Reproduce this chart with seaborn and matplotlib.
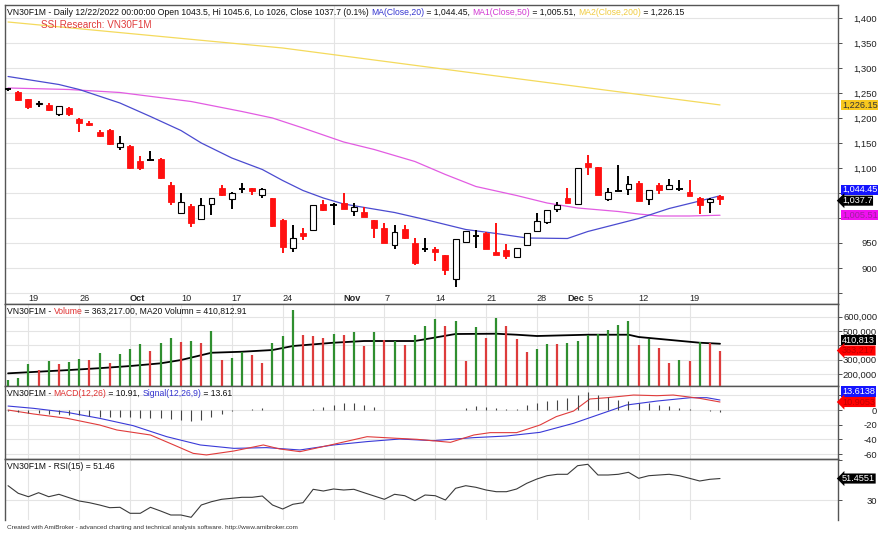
import numpy as np
import pandas as pd
import matplotlib
matplotlib.use('Agg')
import matplotlib.pyplot as plt
import seaborn as sns

sns.set_style('white')
plt.rcParams['font.family'] = ['Liberation Sans', 'DejaVu Sans']

# trading days 15/09/2022 - 22/12/2022
dates = pd.bdate_range('2022-09-15', '2022-12-22')

# OHLC doc tu hinh
open_ = [1259, 1253, 1238, 1228, 1227, 1208, 1221, 1198, 1191, 1173, 1177, 1143, 1145, 1115, 1116, 1119, 1067, 1010,
         1025, 998, 1028, 1061, 1038, 1058, 1060, 1047, 1040, 997, 940, 971, 977, 1029, 1026, 1031, 1015, 1013, 997,
         981, 947, 978, 951, 938, 938, 927, 878, 953, 964, 971, 933, 937, 922, 947, 975, 992, 1018, 1041, 1028, 1111,
         1103, 1039, 1054, 1058, 1071, 1039, 1067, 1059, 1059, 1053, 1041, 1033, 1043.5]
high = [1260, 1254, 1239, 1235, 1230, 1225, 1223, 1200, 1195, 1177, 1178, 1165, 1147, 1125, 1135, 1120, 1072, 1050,
        1028, 1040, 1041, 1067, 1053, 1070, 1061, 1060, 1041, 998, 987, 980, 1026, 1037, 1030, 1050, 1031, 1023, 997,
        991, 987, 987, 960, 960, 943, 927, 958, 975, 977, 973, 991, 948, 941, 970, 1010, 1016, 1033, 1060, 1101, 1127,
        1103, 1061, 1106, 1084, 1074, 1057, 1071, 1078, 1076, 1076, 1043, 1041, 1045.6]
low = [1255, 1235, 1218, 1223, 1214, 1205, 1205, 1173, 1185, 1163, 1146, 1137, 1098, 1097, 1115, 1078, 1027, 1008,
       982, 998, 1007, 1045, 1018, 1051, 1047, 1041, 983, 931, 933, 956, 977, 1015, 986, 1018, 1004, 1003, 960, 950,
       938, 958, 907, 933, 915, 887, 863, 951, 940, 938, 927, 918, 920, 946, 975, 988, 1012, 1030, 1028, 1087, 1046,
       1034, 1054, 1047, 1035, 1026, 1049, 1059, 1054, 1045, 1008, 1011, 1026]
close = [1259, 1237, 1222, 1231, 1217, 1225, 1208, 1191, 1186, 1165, 1149, 1151, 1100, 1101, 1116, 1080, 1033, 1033,
         990, 1027, 1040, 1047, 1050, 1058, 1055, 1059, 985, 943, 961, 964, 1026, 1017, 1026, 1018, 1022, 1003, 981,
         950, 973, 960, 910, 938, 933, 897, 958, 975, 964, 938, 927, 925, 941, 970, 995, 1016, 1027, 1030, 1101, 1103,
         1046, 1053, 1054, 1069, 1035, 1057, 1056, 1066, 1059, 1045, 1026, 1039, 1037.7]

# duong MA (diem doc tren hinh)
ma20_x = [0, 5, 7, 11, 14, 17, 19, 22, 25, 27, 29, 31, 33, 38, 41, 45, 48, 51, 55, 57, 62, 65, 68, 70]
ma20_y = [1283, 1267, 1257, 1230, 1203, 1175, 1150, 1120, 1097, 1075, 1055, 1040, 1028, 1011, 997, 977, 969, 960,
          959, 973, 999, 1019, 1034, 1044.45]
ma50_x = [0, 6, 11, 18, 23, 26, 29, 33, 36, 40, 43, 46, 50, 53, 56, 60, 62, 64, 67, 70]
ma50_y = [1260, 1257, 1251, 1233, 1213, 1200, 1180, 1152, 1137, 1113, 1087, 1063, 1045, 1030, 1020, 1013, 1008, 1004,
          1004, 1005.51]
ma200_x = [0, 27, 45, 70]
ma200_y = [1392, 1340, 1292, 1226.15]

# volume
volume = [160000, 173000, 267000, 227000, 292000, 267000, 285000, 304000, 297000, 348000, 274000, 341000, 372000,
          407000, 360000, 414000, 449000, 425000, 432000, 418000, 502000, 297000, 309000, 351000, 332000, 278000,
          418000, 465000, 647000, 472000, 465000, 449000, 479000, 472000, 491000, 395000, 495000, 437000, 432000,
          402000, 472000, 535000, 584000, 537000, 570000, 292000, 528000, 449000, 593000, 537000, 442000, 355000,
          374000, 407000, 407000, 414000, 432000, 472000, 476000, 507000, 542000, 570000, 402000, 442000, 383000,
          274000, 297000, 292000, 425000, 418000, 363217]
vol_dir = list('gggrgrggrgrgggrggrgrgrggrrgggrrrgrgrgrgrgggrgrgrgrrrggrgggggggrgrrgrgrr')
vma_x = [0, 6, 9, 12, 15, 17, 20, 23, 26, 28, 32, 35, 40, 44, 48, 50, 52, 57, 61, 62, 68, 70]
vma_y = [204000, 227000, 240000, 255000, 274000, 297000, 348000, 355000, 367000, 395000, 418000, 430000, 430000,
         479000, 481000, 474000, 465000, 474000, 474000, 458000, 418000, 410813]

# MACD
macd_x = [0, 2.5, 5.8, 9, 10.7, 14, 16.3, 18.2, 19.5, 22.2, 25.1, 26.7, 28.7, 32, 35.3, 38.2, 40.2, 43.5, 45.8,
          47.4, 50, 52.3, 53.9, 55.6, 57.2, 58.9, 61.5, 63.8, 65.4, 68, 70]
macd_y = [0, -5.4, -11.3, -20.4, -27.2, -34, -47.6, -59, -61.2, -55.8, -47.6, -53, -56.7, -46.7, -36.3, -38.5, -39.9,
          -44, -34, -30.8, -30.8, -20.4, -9, -1.4, 15, 16.8, 20.4, 19.5, 20.4, 15.9, 10.91]
sig_x = [0, 2.5, 5.8, 9, 12.3, 15.6, 18.9, 22.2, 25.4, 28.7, 32, 35.3, 38.5, 41.8, 45.8, 49, 52.3, 55.6, 58.9, 60.8,
         63.8, 67.1, 68.7, 70]
sig_y = [5.4, 2.3, -3.2, -11.3, -21.3, -36.3, -47.6, -52.2, -51.2, -54.4, -47.6, -43, -39.5, -41.7, -37.6, -35.4,
         -30.4, -18.1, -2.3, 6.8, 12.2, 16.8, 16.8, 13.61]
hist = [-2, -3, -4, -4, -5, -5, -7, -7, -8, -9, -9, -10, -10, -11, -11, -11, -12, -14, -15, -14, -10, -5, -1, 0, 1, 3,
        0.5, 0, 0, 0, 1.5, 4, 7, 9, 9, 7, 4, 0.5, 0.5, 0.5, 0.5, 0.5, 0.5, 0, 0, 3, 5, 4, 3, 1, 1, 7, 10, 12, 14, 16,
        21, 24, 20, 18, 14, 12, 10, 9, 7, 5, 3, 2, 0.5, -1, -2.7]

# RSI(15)
rsi = [44.3, 36.7, 33.3, 37.3, 33.3, 35.7, 32.3, 29, 27.3, 25, 22.3, 22.7, 16.7, 16.7, 22.7, 19, 15, 15, 12.7, 25,
       28.3, 30.7, 31.7, 32.7, 32.7, 34, 25, 21, 25.7, 27.3, 40.7, 39, 41, 40, 40.7, 37.3, 34, 30.7, 35.7, 34.3, 29.3,
       35, 34.3, 30, 41.7, 44.3, 42.7, 40, 38.3, 38.3, 41, 46.7, 51, 54.3, 55.7, 55.7, 64.3, 65.7, 55, 55, 55.7, 57.7,
       51.7, 54.3, 55, 55.7, 54.3, 51.7, 49, 50.7, 51.46]

tick_dates = ['2022-09-19', '2022-09-26', '2022-10-03', '2022-10-10', '2022-10-17', '2022-10-24', '2022-11-01',
              '2022-11-07', '2022-11-14', '2022-11-21', '2022-11-28', '2022-12-01', '2022-12-05', '2022-12-12',
              '2022-12-19']
tick_labels = ['19', '26', 'Oct', '10', '17', '24', 'Nov', '7', '14', '21', '28', 'Dec', '5', '12', '19']

x = np.arange(len(dates))
o = np.array(open_); h = np.array(high); l = np.array(low); c = np.array(close)
tick_pos = dates.get_indexer(pd.to_datetime(tick_dates))
monday_pos = x[dates.weekday == 0]

RED = '#ff1010'
GRID = '#e4e4e4'
FRAME = '#555555'
HS = 6.2  # co chu tieu de
W, H = 885, 549

fig = plt.figure(figsize=(W / 100, H / 100), dpi=100)


def panel(top, bottom):
    a = fig.add_axes([5 / W, (H - bottom) / H, 833 / W, (bottom - top) / H])
    a.set_xlim(-0.3, 81.6)
    a.set_xticks(monday_pos, minor=True)
    a.grid(which='minor', axis='x', color=GRID, lw=0.8)
    a.grid(which='major', axis='y', color=GRID, lw=0.8)
    a.set_axisbelow(True)
    for s in a.spines.values():
        s.set_color(FRAME)
        s.set_linewidth(1)
    a.yaxis.tick_right()
    a.tick_params(axis='y', which='major', direction='out', length=3, width=0.6, color='#333333',
                  pad=25.2, labelsize=6.8, labelcolor='#222222')
    a.tick_params(axis='x', which='minor', length=0)
    return a


def set_right_ticks(a, vals, labels):
    a.set_yticks(vals, labels)
    for t in a.get_yticklabels():
        t.set_horizontalalignment('right')


def tag(a, val, txt, fc, tc, arrow=False, dy=0):
    style = 'larrow,pad=0.06' if arrow else 'square,pad=0.08'
    a.annotate(txt, xy=(1, val), xycoords=a.get_yaxis_transform(), xytext=(4, dy), textcoords='offset pixels',
               va='center', ha='left', fontsize=6.6, color=tc, annotation_clip=False, zorder=10,
               bbox=dict(boxstyle=style, fc=fc, ec='none'))


def header(a, parts, dy=-3, size=HS):
    t = a.annotate(parts[0][0], xy=(0, 1), xycoords='axes fraction', xytext=(2, dy), textcoords='offset pixels',
                   va='top', ha='left', fontsize=size, color=parts[0][1])
    for txt, col in parts[1:]:
        t = a.annotate(txt, xy=(1, 0), xycoords=t, va='bottom', ha='left', fontsize=size, color=col)


# ---- gia ----
ax = panel(5, 304)
ax.set_ylim(828, 1426)
set_right_ticks(ax, list(range(850, 1401, 50)),
                ['', '900', '950', '', '', '1,100', '1,150', '1,200', '1,250', '1,300', '1,350', '1,400'])
ax.set_xticks(tick_pos, tick_labels)
ax.tick_params(axis='x', which='major', direction='in', length=4, width=0.6, color='#333333', pad=-7.5,
               labelsize=6.6)
for t in ax.get_xticklabels():
    t.set_horizontalalignment('left')
    if t.get_text() in ('Oct', 'Nov', 'Dec'):
        t.set_fontweight('bold')

sns.lineplot(x=ma200_x, y=ma200_y, ax=ax, color='#f4da5c', lw=0.9)
sns.lineplot(x=ma50_x, y=ma50_y, ax=ax, color='#e25ce2', lw=0.9)
sns.lineplot(x=ma20_x, y=ma20_y, ax=ax, color='#4b4bd0', lw=0.9)

up = c > o + 1.5
dn = c < o - 1.5
dj = ~(up | dn)
ax.vlines(x[dn], l[dn], h[dn], color=RED, lw=1.4, zorder=3)
ax.vlines(x[up], l[up], h[up], color='black', lw=1.4, zorder=3)
ax.vlines(x[dj], l[dj], h[dj], color='black', lw=1.4, zorder=3)
ax.bar(x[dn], (o - c)[dn], bottom=c[dn], width=0.58, color=RED, edgecolor=RED, lw=0.6, zorder=4)
ax.bar(x[up], (c - o)[up], bottom=o[up], width=0.58, color='white', edgecolor='black', lw=0.8, zorder=4)
ax.hlines(o[dj], x[dj] - 0.32, x[dj] + 0.32, color='black', lw=1.4, zorder=4)
ax.set_xlabel('')
ax.set_ylabel('')

header(ax, [('VN30F1M - Daily 12/22/2022 00:00:00 Open 1043.5, Hi 1045.6, Lo 1026, Close 1037.7 (0.1%) ', '#111111'),
            ('MA(Close,20)', '#3535d0'), (' = 1,044.45, ', '#111111'),
            ('MA1(Close,50)', '#d23ad2'), (' = 1,005.51, ', '#111111'),
            ('MA2(Close,200)', '#f0cc40'), (' = 1,226.15', '#111111')])
ax.annotate('SSI Research: VN30F1M', xy=(0, 1), xycoords='axes fraction', xytext=(36, -15),
            textcoords='offset pixels', va='top', ha='left', fontsize=7.1, color='#e03a3a')

tag(ax, ma200_y[-1], '1,226.15', '#f7c81e', '#333333')
tag(ax, ma20_y[-1], '1,044.45', '#1414ff', 'white', dy=6)
tag(ax, close[-1], '1,037.7', 'black', 'white', arrow=True, dy=-1.5)
tag(ax, ma50_y[-1], '1,005.51', '#f010f0', '#a020a0')

# ---- volume ----
axv = panel(304, 386)
axv.set_ylim(115400, 688800)
set_right_ticks(axv, [200000, 300000, 400000, 500000, 600000],
                ['200,000', '300,000', '', '500,000', '600,000'])
axv.set_xticks([])
vcol = np.array(['#2f8f2f' if d == 'g' else '#dd3c3c' for d in vol_dir])
axv.vlines(x, 0, volume, colors=vcol, lw=1.6, zorder=3)
sns.lineplot(x=vma_x, y=vma_y, ax=axv, color='black', lw=1.3)
axv.set_xlabel('')
axv.set_ylabel('')
header(axv, [('VN30F1M - ', '#111111'), ('Volume', '#e03030'),
             (' = 363,217.00, MA20 Volumn = 410,812.91', '#111111')])
tag(axv, vma_y[-1], '410,813', 'black', 'white', dy=3.5)
tag(axv, volume[-1], '363,217', '#ff0000', '#c00000', arrow=True)

# ---- MACD ----
axm = panel(386, 459)
axm.set_ylim(-66.7, 32.7)
set_right_ticks(axm, [-60, -40, -20, 0, 20], ['-60', '-40', '-20', '0', ''])
axm.set_xticks([])
axm.vlines(x, 0, hist, color='#444444', lw=0.8, zorder=3)
sns.lineplot(x=sig_x, y=sig_y, ax=axm, color='#3a3ad8', lw=0.8)
sns.lineplot(x=macd_x, y=macd_y, ax=axm, color='#e03c3c', lw=0.8)
axm.set_xlabel('')
axm.set_ylabel('')
header(axm, [('VN30F1M - ', '#111111'), ('MACD(12,26)', '#e03030'), (' = 10.91, ', '#111111'),
             ('Signal(12,26,9)', '#3535d0'), (' = 13.61', '#111111')])
tag(axm, sig_y[-1], '13.6138', '#1414ff', 'white', dy=8.5)
tag(axm, macd_y[-1], '10.9053', '#ff0000', '#c00000', arrow=True)

# ---- RSI ----
axr = panel(459, 520)
axr.set_ylim(10, 71)
set_right_ticks(axr, [30, 70], ['30', ''])
axr.set_xticks([])
axr.spines['bottom'].set_visible(False)
sns.lineplot(x=x, y=rsi, ax=axr, color='#3a3a3a', lw=0.8)
axr.set_xlabel('')
axr.set_ylabel('')
header(axr, [('VN30F1M - RSI(15) = 51.46', '#111111')])
tag(axr, rsi[-1], '51.4551', 'black', 'white', arrow=True)

fig.text(7 / W, 1 - 527 / H, 'Created with AmiBroker - advanced charting and technical analysis software. '
         'http://www.amibroker.com', fontsize=4.6, color='#333333', va='center', ha='left')

fig.savefig('out.png', dpi=100, facecolor='white')
